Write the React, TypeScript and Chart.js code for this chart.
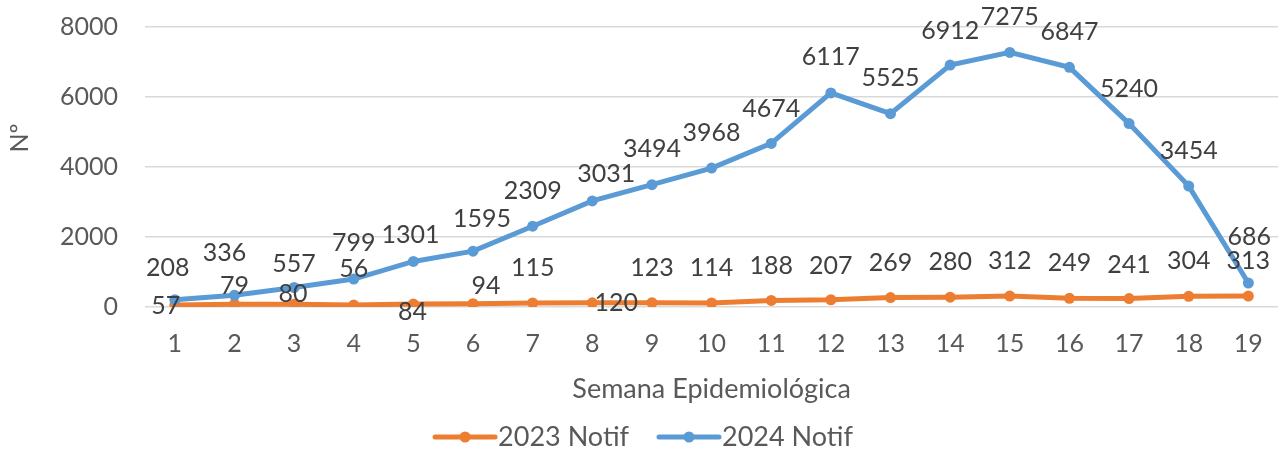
import React, { useEffect, useRef } from "react";
import { Chart, registerables } from "chart.js";

Chart.register(...registerables);

const weeks = ["1","2","3","4","5","6","7","8","9","10","11","12","13","14","15","16","17","18","19"];
const notif2023 = [57, 79, 80, 56, 84, 94, 115, 120, 123, 114, 188, 207, 269, 280, 312, 249, 241, 304, 313];
const notif2024 = [208, 336, 557, 799, 1301, 1595, 2309, 3031, 3494, 3968, 4674, 6117, 5525, 6912, 7275, 6847, 5240, 3454, 686];
const seriesNames = ["2023 Notif", "2024 Notif"];
const xTitle = "Semana Epidemiológica";
const yTitle = "Nº";

// label placement offsets (pixels, label centre relative to point)
const labelOffsets2023: [number, number][] = [
  [-9, 1], [0, -18], [-1, -10], [0, -36], [-1, 8], [13, -18], [0, -35], [24, 0], [0, -35], [0, -35],
  [0, -34], [0, -34], [0, -35], [0, -35], [0, -35], [0, -35], [0, -34], [0, -35], [0, -35],
];
const labelOffsets2024: [number, number][] = [
  [-7, -32], [-10, -42], [0, -24], [0, -36], [-3, -27], [9, -32], [0, -35], [14, -27], [0, -36], [0, -35],
  [0, -34], [0, -36], [0, -36], [0, -34], [0, -35], [0, -35], [0, -35], [0, -35], [1, -46],
];

const ORANGE = "#ED7D31";
const BLUE = "#5B9BD5";
const FONT = "Lato";

const overlayPlugin = {
  id: "overlay",
  afterDatasetsDraw(chart: any) {
    const ctx = chart.ctx;
    ctx.save();
    ctx.font = `25px ${FONT}`;
    ctx.fillStyle = "#404040";
    ctx.textAlign = "center";
    ctx.textBaseline = "middle";
    const offs = [labelOffsets2023, labelOffsets2024];
    chart.data.datasets.forEach((ds: any, di: number) => {
      const meta = chart.getDatasetMeta(di);
      meta.data.forEach((pt: any, i: number) => {
        const [dx, dy] = offs[di][i];
        ctx.fillText(String(ds.data[i]), pt.x + dx, pt.y + dy);
      });
    });
    ctx.restore();
  },
  afterDraw(chart: any) {
    const ctx = chart.ctx;
    const ca = chart.chartArea;
    ctx.save();
    ctx.fillStyle = "#595959";
    ctx.font = `27px ${FONT}`;
    ctx.textAlign = "center";
    ctx.textBaseline = "middle";
    ctx.fillText(xTitle, (ca.left + ca.right) / 2, 389);
    ctx.save();
    ctx.translate(20, 138);
    ctx.rotate(-Math.PI / 2);
    ctx.font = `25px ${FONT}`;
    ctx.fillText(yTitle, 0, 0);
    ctx.restore();

    // legend
    ctx.font = `27px ${FONT}`;
    ctx.textAlign = "left";
    const colors = [ORANGE, BLUE];
    const lineLen = 60;
    const gapLT = 3;
    const gapItems = 30;
    const widths = seriesNames.map((n) => ctx.measureText(n).width);
    const total = widths.reduce((a, w) => a + lineLen + gapLT + w, 0) + gapItems;
    let x = 644 - total / 2;
    const y = 437;
    seriesNames.forEach((n, i) => {
      ctx.strokeStyle = colors[i];
      ctx.lineWidth = 5;
      ctx.lineCap = "round";
      ctx.beginPath();
      ctx.moveTo(x, y);
      ctx.lineTo(x + lineLen, y);
      ctx.stroke();
      ctx.fillStyle = colors[i];
      ctx.beginPath();
      ctx.arc(x + lineLen / 2, y, 5.5, 0, Math.PI * 2);
      ctx.fill();
      ctx.fillStyle = "#595959";
      ctx.fillText(n, x + lineLen + gapLT, y);
      x += lineLen + gapLT + widths[i] + gapItems;
    });
    ctx.restore();
  },
};

export default function App() {
  const ref = useRef<HTMLCanvasElement | null>(null);
  useEffect(() => {
    document.body.style.margin = "0";
    const canvas = ref.current;
    if (!canvas) return;
    const chart = new Chart(canvas, {
      type: "line",
      data: {
        labels: weeks,
        datasets: [
          {
            label: seriesNames[0],
            data: notif2023,
            borderColor: ORANGE,
            backgroundColor: ORANGE,
            borderWidth: 5,
            pointRadius: 5.5,
            pointHoverRadius: 5.5,
            pointBorderWidth: 0,
            tension: 0,
            order: 1,
          },
          {
            label: seriesNames[1],
            data: notif2024,
            borderColor: BLUE,
            backgroundColor: BLUE,
            borderWidth: 5,
            pointRadius: 5.5,
            pointHoverRadius: 5.5,
            pointBorderWidth: 0,
            tension: 0,
            order: 0,
          },
        ],
      },
      options: {
        animation: false,
        responsive: false,
        maintainAspectRatio: false,
        layout: { padding: { top: 27, right: 4, left: 0, bottom: 0 } },
        plugins: {
          legend: { display: false },
          tooltip: { enabled: false },
        },
        scales: {
          x: {
            offset: true,
            grid: { display: false, drawTicks: false },
            border: { display: false },
            ticks: { font: { family: FONT, size: 25 }, color: "#595959", padding: 22, maxRotation: 0, autoSkip: false },
            afterFit: (s: any) => {
              s.height = 143;
            },
          },
          y: {
            min: 0,
            max: 8000,
            ticks: {
              stepSize: 2000,
              font: { family: FONT, size: 25 },
              color: "#595959",
              padding: 0,
              callback: (v: any) => String(v),
            },
            grid: { color: "#D9D9D9", lineWidth: 1.5, drawTicks: true, tickLength: 27, tickColor: "rgba(0,0,0,0)" },
            border: { display: false },
            afterFit: (s: any) => {
              s.width = 145;
            },
          },
        },
      },
      plugins: [overlayPlugin],
    });
    return () => chart.destroy();
  }, []);
  return (
    <div style={{ width: 1285, height: 450 }}>
      <canvas ref={ref} width={1285} height={450} style={{ display: "block" }} />
    </div>
  );
}
